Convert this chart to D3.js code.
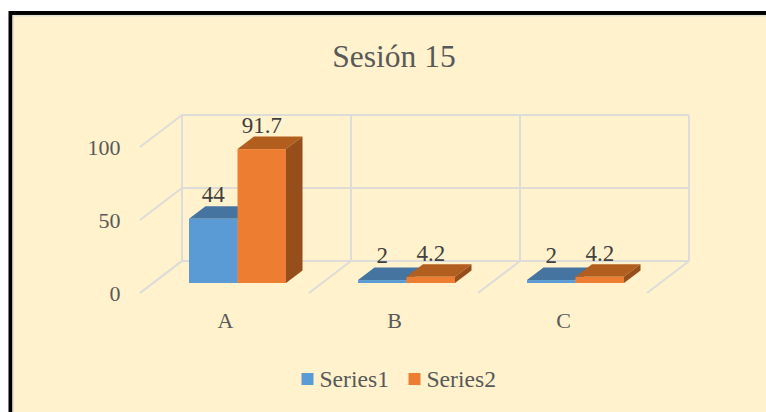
<!DOCTYPE html>
<html>
<head>
<meta charset="utf-8">
<script src="https://cdn.jsdelivr.net/npm/d3@7"></script>
<style>
  html, body { margin: 0; padding: 0; background: #fff; }
  text { font-family: "Liberation Serif", serif; fill: #595959; }
</style>
</head>
<body>
<div id="app"></div>
<script>
const categories = ['A', 'B', 'C']
const series1 = [44, 2, 2]
const series2 = [91.7, 4.2, 4.2]
const seriesNames = ['Series1', 'Series2']
const yTicks = [0, 50, 100]

// front, top, side face colours per series
const faces = [
  ['#5b9bd5', '#44749f', '#44749f'],
  ['#ed7d31', '#b25e1f', '#964f1a']
]

const svg = d3.select('#app').append('svg').attr('width', 766).attr('height', 412)
  .style('display', 'block')

// the frame runs off the right and bottom of the picture
svg.append('rect').attr('x', 10.5).attr('y', 13).attr('width', 770).attr('height', 410)
  .attr('fill', '#fff2cc').attr('stroke', '#000').attr('stroke-width', 4)
svg.append('rect').attr('x', 13.2).attr('y', 15.7).attr('width', 770).attr('height', 410)
  .attr('fill', 'none').attr('stroke', '#e3dfd0').attr('stroke-width', 1.5)

// back wall scales, the floor comes forward by (floorDx, floorDy)
const x = d3.scaleBand().domain(categories).range([182, 689])
const y = d3.scaleLinear().domain([0, 100]).range([261, 115])
const floorDx = -42, floorDy = 32
const gridColor = '#dddcd8'

const grid = svg.append('g').attr('fill', 'none').attr('stroke', gridColor).attr('stroke-width', 2)
yTicks.forEach(t => {
  grid.append('line').attr('x1', x.range()[0]).attr('x2', x.range()[1]).attr('y1', y(t)).attr('y2', y(t))
  grid.append('line').attr('x1', x.range()[0]).attr('y1', y(t))
    .attr('x2', x.range()[0] + floorDx).attr('y2', y(t) + floorDy)
})
const walls = categories.map(c => x(c)).concat(x.range()[1])
walls.forEach(w => {
  grid.append('line').attr('x1', w).attr('x2', w).attr('y1', y(100)).attr('y2', y(0))
  grid.append('line').attr('x1', w).attr('y1', y(0))
    .attr('x2', w + floorDx).attr('y2', y(0) + floorDy)
})

// y axis labels sit in front of the floor edge
svg.append('g').selectAll('text').data(yTicks).enter().append('text')
  .attr('x', 120.5).attr('y', d => y(d) + floorDy + 8)
  .attr('text-anchor', 'end').attr('font-size', 22)
  .text(d => d)

// bars
const barBase = 283
const barOffset = 7
const barW = 48.5
const depthX = 16.5, depthY = -12.5
const unit = y(0) - y(1)
const bars = svg.append('g')

function drawBar(cat, idx, val) {
  const x0 = x(cat) + barOffset + idx * barW
  const x1 = x0 + barW
  const top = barBase - val * unit
  const c = faces[idx]
  const pts = a => a.map(p => p.join(',')).join(' ')
  bars.append('polygon').attr('fill', c[1])
    .attr('points', pts([[x0, top], [x1, top], [x1 + depthX, top + depthY], [x0 + depthX, top + depthY]]))
  bars.append('polygon').attr('fill', c[2])
    .attr('points', pts([[x1, top], [x1 + depthX, top + depthY], [x1 + depthX, barBase + depthY], [x1, barBase]]))
  bars.append('rect').attr('fill', c[0])
    .attr('x', x0).attr('y', top).attr('width', barW).attr('height', barBase - top)
}

// blue first so the orange bar covers its side
categories.forEach((c, i) => {
  drawBar(c, 0, series1[i])
  drawBar(c, 1, series2[i])
})

// value labels
const labels = svg.append('g').attr('text-anchor', 'middle').attr('font-size', 23)
categories.forEach((c, i) => {
  labels.append('text').attr('x', x(c) + barOffset + barW * 0.5)
    .attr('y', barBase - series1[i] * unit + depthY - 4.2).text(series1[i]).style('fill', '#404040')
  labels.append('text').attr('x', x(c) + barOffset + barW * 1.5)
    .attr('y', barBase - series2[i] * unit + depthY - 3.2).text(series2[i]).style('fill', '#404040')
})

// category labels
svg.append('g').selectAll('text').data(categories).enter().append('text')
  .attr('x', d => x(d) + 43.5).attr('y', 328)
  .attr('text-anchor', 'middle').attr('font-size', 22)
  .text(d => d)

svg.append('text').attr('x', 394).attr('y', 67).attr('text-anchor', 'middle')
  .attr('font-size', 31.5).text('Sesión 15')

// legend
const legendX = [301.5, 408.5]
seriesNames.forEach((s, i) => {
  svg.append('rect').attr('x', legendX[i]).attr('y', 373).attr('width', 12).attr('height', 12)
    .attr('fill', faces[i][0])
  svg.append('text').attr('x', legendX[i] + 18).attr('y', 387).attr('font-size', 23.6).text(s)
})
</script>
</body>
</html>
